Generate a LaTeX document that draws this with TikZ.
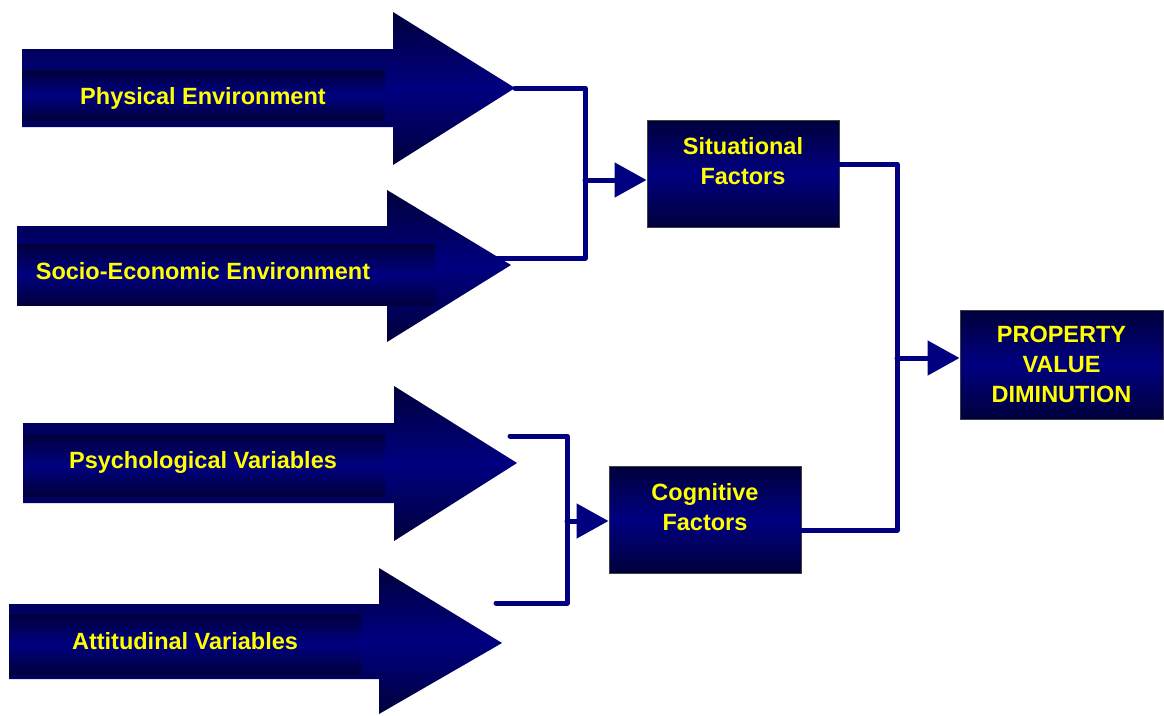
\documentclass[tikz,border=0pt]{standalone}
\usepackage{fontspec}
\setsansfont{Liberation Sans}
\usetikzlibrary{arrows.meta,positioning,calc}
\definecolor{navy}{HTML}{000080}
\definecolor{deepnavy}{HTML}{00003C}
\definecolor{labelyellow}{HTML}{FFFF00}

\begin{document}
\begin{tikzpicture}[x=1pt,y=-1pt,
    labeltext/.style={text=labelyellow,align=center,inner sep=0pt,
      font=\sffamily\bfseries\fontsize{23.5}{30}\selectfont},
    factorbox/.style={rectangle,draw=black!75,line width=1pt,
      top color=deepnavy,bottom color=deepnavy,middle color=navy},
    flow/.style={draw=navy,line width=5pt,line cap=round,line join=round},
    feed/.style={flow,-{Triangle[length=32pt,width=34pt]}}]
      \useasboundingbox (0,0) rectangle (1164,715);
      % big input arrows
      \shade[top color=deepnavy,bottom color=deepnavy,middle color=navy]
        (22,49) -- (393,49) -- (393,12) -- (515,88) -- (393,165) -- (393,127) -- (22,127) -- cycle;
      \shade[top color=deepnavy,bottom color=deepnavy,middle color=navy] (22,70) rectangle (385,120);
      \shade[top color=deepnavy,bottom color=deepnavy,middle color=navy]
        (17,226) -- (387,226) -- (387,190) -- (511,265) -- (387,342) -- (387,305) -- (17,305) -- cycle;
      \shade[top color=deepnavy,bottom color=deepnavy,middle color=navy] (17,244) rectangle (435,305);
      \shade[top color=deepnavy,bottom color=deepnavy,middle color=navy]
        (23,423) -- (394,423) -- (394,386) -- (517,463) -- (394,541) -- (394,503) -- (23,503) -- cycle;
      \shade[top color=deepnavy,bottom color=deepnavy,middle color=navy] (23,434) rectangle (385,496);
      \shade[top color=deepnavy,bottom color=deepnavy,middle color=navy]
        (9,604) -- (379,604) -- (379,568) -- (502,643) -- (379,714) -- (379,679) -- (9,679) -- cycle;
      \shade[top color=deepnavy,bottom color=deepnavy,middle color=navy] (9,614) rectangle (361,674);
      % arrow labels
      \node[labeltext] (phys) at (203,98) {Physical Environment};
      \node[labeltext] (socio) at (203,271) {Socio-Economic Environment};
      \node[labeltext] (psych) at (203,462) {Psychological Variables};
      \node[labeltext] (att) at (185,641) {Attitudinal Variables};
      % factor boxes
      \node[factorbox,minimum width=192pt,minimum height=107pt] (sit) at (743,173.5) {};
      \node[labeltext] (sit text) at (743,161) {Situational\\Factors};
      \node[factorbox,minimum width=192pt,minimum height=107pt] (cog) at (705,519.5) {};
      \node[labeltext] (cog text) at (705,507) {Cognitive\\Factors};
      \node[factorbox,minimum width=203pt,minimum height=109pt,labeltext,inner sep=0pt]
        (prop) at (1061.5,364.5) {PROPERTY\\VALUE\\DIMINUTION};
      % brackets
      \coordinate (phys tip) at (515,88);
      \coordinate (socio end) at (496,258);
      \coordinate (sit joint) at (585,180);
      \draw[flow] (phys tip) -| (sit joint) |- (socio end);
      \draw[feed] (sit joint) -- (sit joint -| sit.west);
      \coordinate (psych end) at (510,436);
      \coordinate (att end) at (496,603);
      \coordinate (cog joint) at (567,521);
      \draw[flow] (psych end) -| (cog joint) |- (att end);
      \draw[feed] (cog joint) -- (cog joint -| cog.west);
      \coordinate (sit out) at ([yshift=9.5pt]sit.east);
      \coordinate (cog out) at ([yshift=-10.5pt]cog.east);
      \coordinate (prop joint) at (897,358);
      \draw[flow] (sit out) -| (prop joint) |- (cog out);
      \draw[feed] (prop joint) -- (prop joint -| prop.west);
    \end{tikzpicture}
\end{document}
